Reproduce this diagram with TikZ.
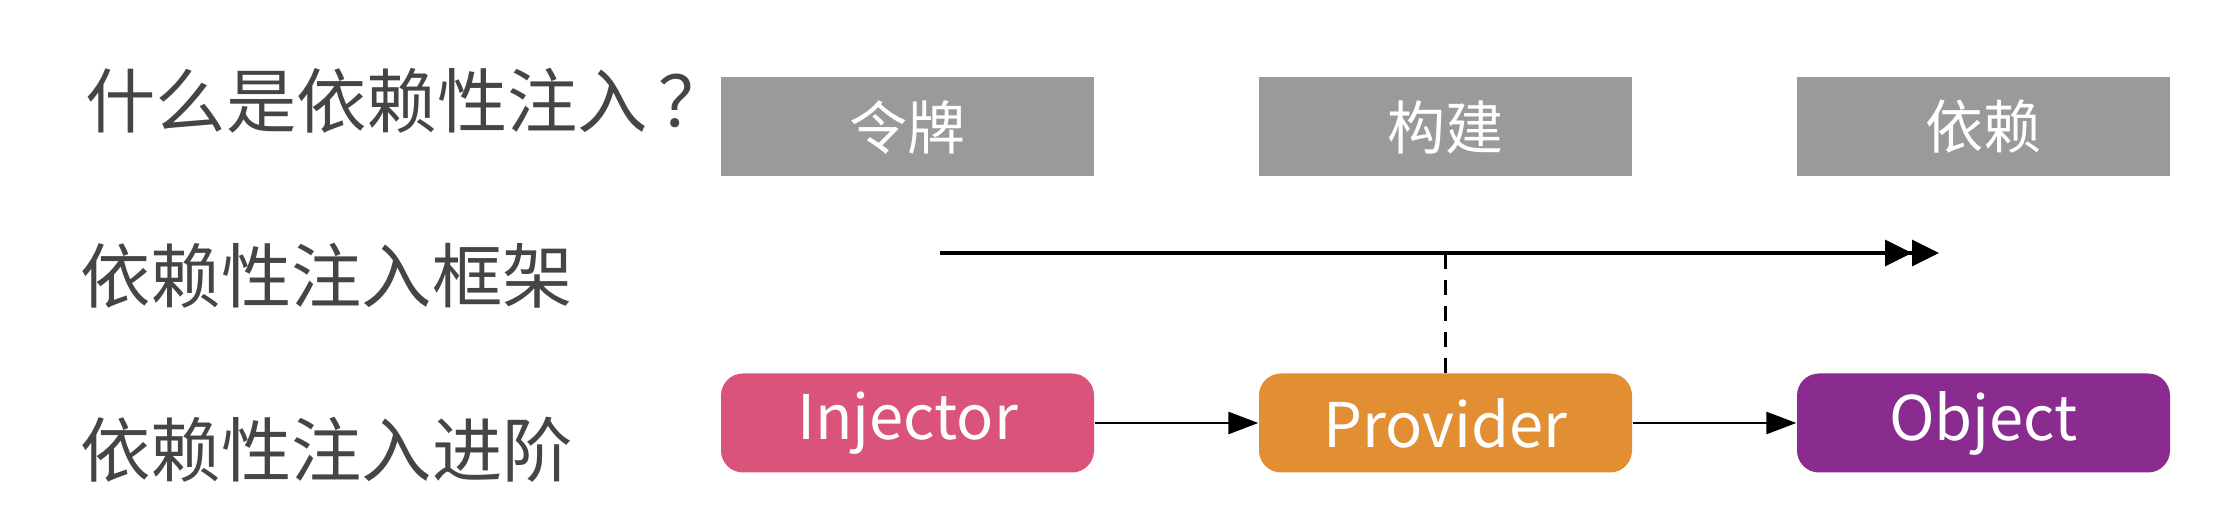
\documentclass[tikz,border=0pt]{standalone}
\usepackage{fontspec}
\setmainfont{Noto Sans CJK SC}
\usetikzlibrary{matrix, arrows.meta, positioning}

\definecolor{labelgrey}{HTML}{454545}
\definecolor{boxgrey}{HTML}{9B999C}
\definecolor{injpink}{HTML}{D9537A}
\definecolor{provorange}{HTML}{E28E33}
\definecolor{objpurple}{HTML}{8A2B8F}

\begin{document}
\begin{tikzpicture} [
  rowlabel/.style = {anchor = west, inner sep = 0pt, text = labelgrey, font = \fontsize{20}{24}\selectfont},
  greybox/.style = {anchor = center, fill = boxgrey, text = white, minimum width = 3.73cm, minimum height = .99cm, inner sep = 0pt, font = \fontsize{16.5}{20}\selectfont},
  colbox/.style = {greybox, fill = #1, rounded corners = .22cm, font = \fontsize{17.5}{21}\selectfont},
  link/.style = {-{Triangle[length = .3cm, width = .22cm]}, line width = .8pt}
]
\fill[white] (0,0) rectangle (22.22,-5.26);
\useasboundingbox (0,0) rectangle (22.22,-5.26);
\matrix (m) at (14.455,-2.75) [matrix of nodes, column sep = 1.65cm, row sep = 1.97cm]{
\node[greybox](token){令牌}; & \node[greybox](build){构建}; & \node[greybox](dep){依赖}; \\
\node[colbox = injpink](injector){Injector}; & \node[colbox = provorange](provider){Provider}; & \node[colbox = objpurple](object){Object}; \\
};
\node[rowlabel] (what) at (.85,-1.01) {什么是依赖性注入\hspace{.15em}？};
\node[rowlabel] (frame) at (.80,-2.76) {依赖性注入框架};
\node[rowlabel] (adv) at (.80,-4.50) {依赖性注入进阶};
\coordinate (start) at (9.40,-2.53);
\coordinate (stop) at (19.39,-2.53);
\draw[line width = .9pt, -{Triangle[length = .27cm, width = .26cm, sep = 0pt]Triangle[length = .27cm, width = .26cm]}] (start) -- (stop);
\draw[dash pattern = on .15cm off .11cm, line width = .7pt] (provider.north) -- (provider.north |- start);
\draw[link] (injector) -- (provider);
\draw[link] (provider) -- (object);
\end{tikzpicture}
\end{document}
